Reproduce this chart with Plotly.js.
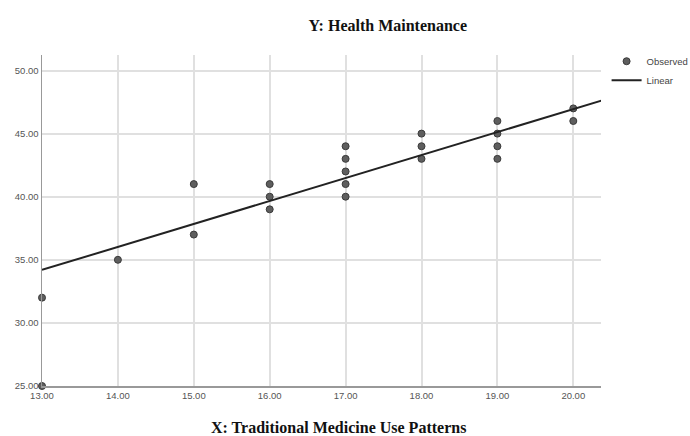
<!DOCTYPE html>
<html>
<head>
<meta charset="utf-8">
<script src="https://cdn.plot.ly/plotly-3.0.1.min.js"></script>
<style>html,body{margin:0;padding:0;background:#fff;}#chart{width:690px;height:436px;}</style>
</head>
<body>
<div id="chart"></div>
<script>
// Observed points (x: Traditional Medicine Use Patterns, y: Health Maintenance)
var obsX = [13, 13, 14, 15, 15, 16, 16, 16, 17, 17, 17, 17, 17, 18, 18, 18, 19, 19, 19, 19, 20, 20];
var obsY = [32, 25, 35, 41, 37, 41, 40, 39, 44, 43, 42, 41, 40, 45, 44, 43, 46, 45, 44, 43, 47, 46];
// Linear fit line
var fitX = [13, 20.5];
var fitY = [34.2, 47.85];
var xTicks = [13, 14, 15, 16, 17, 18, 19, 20];
var yTicks = [25, 30, 35, 40, 45, 50];

var traces = [
  {
    x: obsX, y: obsY, type: 'scatter', mode: 'markers', name: 'Observed',
    marker: {size: 7, color: '#5e5e5e', line: {color: '#3a3a3a', width: 1}},
    cliponaxis: false
  },
  {
    x: fitX, y: fitY, type: 'scatter', mode: 'lines', name: 'Linear',
    line: {color: '#222', width: 2}
  }
];

var tickFont = {family: 'Liberation Sans, Arial, sans-serif', size: 9.5, color: '#555'};
var layout = {
  width: 690, height: 436,
  margin: {l: 42, r: 89, t: 55, b: 50, autoexpand: false},
  paper_bgcolor: '#fff', plot_bgcolor: '#fff',
  title: {
    text: '<b>Y: Health Maintenance</b>',
    font: {family: 'Liberation Serif, Times New Roman, serif', size: 16, color: '#111'},
    x: 0.562, xanchor: 'center', xref: 'container',
    y: 1 - 25/436, yanchor: 'middle', yref: 'container'
  },
  xaxis: {
    range: [13, 20.365],
    tickvals: xTicks, ticktext: xTicks.map(function(v){return v.toFixed(2);}),
    tickfont: tickFont, ticks: '', ticklen: 0,
    showgrid: true, gridcolor: '#e0e0e0', gridwidth: 2,
    showline: true, linecolor: '#999', linewidth: 1.5,
    zeroline: false, fixedrange: true
  },
  yaxis: {
    range: [25, 51.23],
    tickvals: yTicks, ticktext: yTicks.map(function(v){return v.toFixed(2);}),
    tickfont: tickFont, ticks: '', ticklen: 0,
    showgrid: true, gridcolor: '#e0e0e0', gridwidth: 2,
    showline: true, linecolor: '#999', linewidth: 1.5,
    zeroline: false, fixedrange: true
  },
  showlegend: true,
  legend: {
    x: 1.01, xanchor: 'left', xref: 'paper', y: 1.025, yanchor: 'top',
    font: {family: 'Liberation Sans, Arial, sans-serif', size: 9.5, color: '#444'},
    bgcolor: 'rgba(0,0,0,0)', tracegroupgap: 0, itemwidth: 30
  },
  annotations: [
    {
      text: '<b>X: Traditional Medicine Use Patterns</b>',
      xref: 'paper', yref: 'paper',
      x: (338 - 42) / 559, y: -(427 - 386) / 331,
      xanchor: 'center', yanchor: 'middle', showarrow: false,
      font: {family: 'Liberation Serif, Times New Roman, serif', size: 16, color: '#111'}
    }
  ]
};

Plotly.newPlot('chart', traces, layout, {displayModeBar: false, staticPlot: true});
</script>
</body>
</html>
